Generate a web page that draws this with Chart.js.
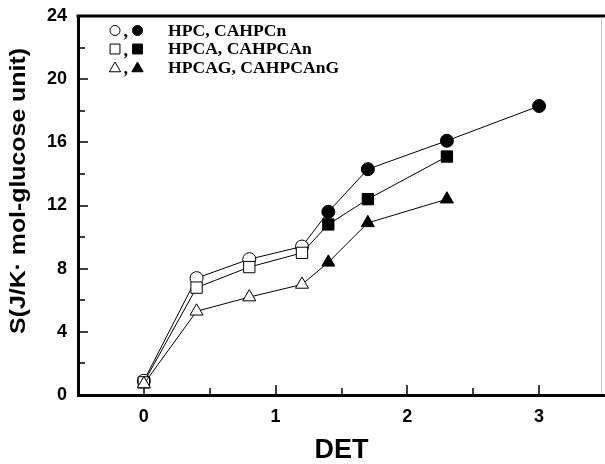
<!DOCTYPE html>
<html>
<head>
<meta charset="utf-8">
<script src="https://cdn.jsdelivr.net/npm/chart.js@4/dist/chart.umd.min.js"></script>
<style>
  html, body { margin: 0; padding: 0; background: #fff; }
  #wrap { width: 605px; height: 464px; }
</style>
</head>
<body>
<div id="wrap"><canvas id="c" width="605" height="464"></canvas></div>
<script>
// ---- data ----
const detCircle = [0, 0.4, 0.8, 1.2, 1.4, 1.7, 2.3, 3.0];
const sCircle   = [0.9, 7.4, 8.6, 9.4, 11.6, 14.3, 16.1, 18.3];
const detSquare = [0, 0.4, 0.8, 1.2, 1.4, 1.7, 2.3];
const sSquare   = [0.8, 6.8, 8.1, 9.0, 10.8, 12.4, 15.1];
const detTri    = [0, 0.4, 0.8, 1.2, 1.4, 1.7, 2.3];
const sTri      = [0.7, 5.3, 6.2, 7.0, 8.4, 10.9, 12.4];
const openCount = 4; // first points are the open (uncrosslinked) samples
const legendLabels = ['HPC, CAHPCn', 'HPCA, CAHPCAn', 'HPCAG, CAHPCAnG'];
const xTickLabels = [0, 1, 2, 3];
const yTickLabels = [0, 4, 8, 12, 16, 20, 24];
const xTitle = 'DET';
const yTitle = 'S(J/K\u00B7 mol-glucose unit)';

const SANS = '"Liberation Sans", Arial, sans-serif';
const SERIF = '"Liberation Serif", "Times New Roman", serif';

function pts(xs, ys) { return xs.map((x, i) => ({ x: x, y: ys[i] })); }
function fills(n) { return Array.from({ length: n }, (_, i) => i < openCount ? '#ffffff' : '#000000'); }

const styles = ['circle', 'rect', 'triangle'];
const radii = [6.5, 8, 7.5];
const series = [[detCircle, sCircle], [detSquare, sSquare], [detTri, sTri]];

const datasets = series.map((s, k) => ({
  label: legendLabels[k],
  data: pts(s[0], s[1]),
  showLine: true,
  borderColor: '#000',
  borderWidth: 1,
  pointStyle: styles[k],
  pointRadius: radii[k],
  pointBackgroundColor: fills(s[0].length),
  pointBorderColor: '#000',
  pointBorderWidth: 1,
  order: 3 - k
}));

const decor = {
  id: 'decor',
  beforeDatasetsDraw(chart) {
    const ctx = chart.ctx, a = chart.chartArea;
    const xs = chart.scales.x, ys = chart.scales.y;
    ctx.save();
    ctx.strokeStyle = '#000';
    // inward ticks
    ctx.lineWidth = 1.5;
    xs.ticks.forEach(t => {
      const px = Math.round(xs.getPixelForValue(t.value));
      const major = Number.isInteger(t.value);
      if (t.value <= xs.min || t.value >= xs.max) return;
      ctx.beginPath();
      ctx.moveTo(px, a.bottom);
      ctx.lineTo(px, a.bottom - (major ? 10 : 7));
      ctx.stroke();
    });
    ys.ticks.forEach(t => {
      const py = Math.round(ys.getPixelForValue(t.value));
      const major = t.value % 4 === 0;
      if (t.value <= ys.min || t.value >= ys.max) return;
      ctx.beginPath();
      ctx.moveTo(a.left, py);
      ctx.lineTo(a.left + (major ? 10 : 7), py);
      ctx.stroke();
    });
    // frame: top thick, right thin grey
    ctx.lineWidth = 3;
    ctx.beginPath();
    ctx.moveTo(a.left - 1.5, a.top);
    ctx.lineTo(a.right, a.top);
    ctx.stroke();
    ctx.lineWidth = 1;
    ctx.strokeStyle = '#c8c8c8';
    ctx.beginPath();
    ctx.moveTo(a.right - 3.5, a.top + 1.5);
    ctx.lineTo(a.right - 3.5, a.bottom - 1.5);
    ctx.stroke();
    ctx.restore();
  },
  afterDraw(chart) {
    const ctx = chart.ctx;
    ctx.save();
    // legend
    const symR = [5, 7, 6.5];
    const rowY = [30.5, 49, 67.5];
    for (let k = 0; k < 3; k++) {
      const y = rowY[k] + (k === 2 ? 1 : 0);
      ctx.strokeStyle = '#000';
      ctx.lineWidth = 1;
      ctx.fillStyle = '#fff';
      Chart.helpers.drawPoint(ctx, { pointStyle: styles[k], radius: symR[k], rotation: 0, borderWidth: 1 }, 115, y);
      ctx.fillStyle = '#000';
      Chart.helpers.drawPoint(ctx, { pointStyle: styles[k], radius: symR[k], rotation: 0, borderWidth: 1 }, 137.5, y);
      ctx.font = 'bold 18px ' + SERIF;
      ctx.textBaseline = 'middle';
      ctx.textAlign = 'left';
      ctx.fillText(',', 123.5, rowY[k] + 2);
      ctx.save();
      ctx.translate(168, rowY[k] + 1);
      ctx.scale(1.1, 1);
      ctx.font = 'bold 16px ' + SERIF;
      ctx.fillText(legendLabels[k], 0, 0);
      ctx.restore();
    }
    // y title
    ctx.translate(19, 191);
    ctx.rotate(-Math.PI / 2);
    ctx.scale(1.13, 1);
    ctx.font = 'bold 22px ' + SANS;
    ctx.textAlign = 'center';
    ctx.textBaseline = 'middle';
    ctx.fillStyle = '#000';
    ctx.fillText(yTitle, 0, 0);
    ctx.restore();
  }
};

new Chart(document.getElementById('c'), {
  type: 'scatter',
  data: { datasets: datasets },
  options: {
    responsive: false,
    animation: false,
    devicePixelRatio: 1,
    layout: { autoPadding: false, padding: { top: 16, right: 0, left: 0, bottom: 0 } },
    plugins: { legend: { display: false }, tooltip: { enabled: false } },
    scales: {
      x: {
        type: 'linear',
        min: -0.5, max: 3.5,
        afterFit(s) { s.height = 69; s.paddingLeft = 0; s.paddingRight = 0; },
        grid: { display: false, drawTicks: false },
        border: { display: true, width: 3, color: '#000' },
        ticks: {
          stepSize: 0.5,
          autoSkip: false,
          maxRotation: 0,
          padding: 11,
          color: '#000',
          font: { family: SANS, size: 18, weight: 'bold' },
          callback: v => xTickLabels.includes(v) ? String(v) : ''
        },
        title: {
          display: true, text: xTitle, color: '#000',
          font: { family: SANS, size: 27, weight: 'bold', lineHeight: 1 },
          padding: { top: 0, bottom: 0 }
        }
      },
      y: {
        type: 'linear',
        min: 0, max: 24,
        afterFit(s) { s.width = 78; s.paddingTop = 0; s.paddingBottom = 0; },
        grid: { display: false, drawTicks: false },
        border: { display: true, width: 3, color: '#000' },
        ticks: {
          stepSize: 2,
          autoSkip: false,
          padding: 11,
          color: '#000',
          font: { family: SANS, size: 18, weight: 'bold' },
          callback: v => yTickLabels.includes(v) ? String(v) : ''
        },
        title: { display: false, text: yTitle }
      }
    }
  },
  plugins: [decor]
});
</script>
</body>
</html>
